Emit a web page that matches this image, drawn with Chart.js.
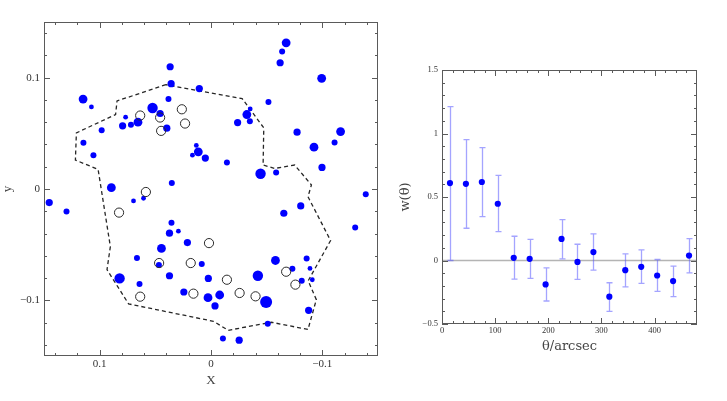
<!DOCTYPE html>
<html><head><meta charset="utf-8">
<script src="https://cdn.jsdelivr.net/npm/chart.js@4.4.1/dist/chart.umd.min.js"></script>
<style>
html,body{margin:0;padding:0;background:#fff;}
#wrap{position:relative;width:727px;height:401px;overflow:hidden;background:#fff;}
canvas{position:absolute;top:0;}
</style></head><body>
<div id="wrap">
<canvas id="c1" width="390" height="401" style="left:0px"></canvas>
<canvas id="c2" width="337" height="401" style="left:390px"></canvas>
</div>
<script>
// ---------- Left panel data ----------
const galX = [0.1149,0.1074,0.0367,0.0358,0.0105,0.0382,0.0525,0.0457,0.0767,0.0794,0.0719,0.0656,0.0397,0.0982,0.1146,0.1056,0.0132,0.0114,0.0167,0.0051,0.0352,0.0895,0.1453,0.1298,0.0696,0.0606,
-0.0675,-0.0639,-0.0621,-0.0994,-0.0516,-0.0352,-0.0322,-0.0349,-0.0239,-0.0773,-0.1164,-0.0925,-0.111,-0.0143,-0.0445,-0.0585,-0.0997,-0.139,
-0.0806,-0.0654,-0.1295,0.0083,-0.0579,-0.0859,-0.0731,-0.0889,-0.0421,0.0024,-0.0815,-0.091,0.0027,-0.0078,-0.0495,-0.0036,-0.0877,-0.051,-0.0107,-0.0253,
0.0355,0.0373,0.0293,0.0212,0.0445,0.0665,0.0468,0.0373,0.0821,0.0642,0.0244];
const galY = [0.0808,0.0737,0.1098,0.0946,0.0902,0.0808,0.0728,0.0678,0.0645,0.0567,0.0576,0.060,0.0546,0.0528,0.0415,0.0304,0.0391,0.0334,0.0304,0.0278,0.0054,0.0012,-0.0122,-0.0203,-0.0107,-0.0083,
0.1313,0.1235,0.1134,0.0994,0.0782,0.0719,0.0669,0.0609,0.0597,0.051,0.0516,0.0376,0.0418,0.0239,0.0137,0.0149,0.0194,-0.0047,
-0.0152,-0.0218,-0.0346,-0.0674,-0.0642,-0.0624,-0.0716,-0.0713,-0.0779,-0.0803,-0.0824,-0.0815,-0.0976,-0.0952,-0.1014,-0.105,-0.109,-0.1211,-0.1343,-0.1358,
-0.0304,-0.0397,-0.0379,-0.0481,-0.0534,-0.062,-0.0683,-0.0779,-0.0803,-0.0853,-0.0925];
const galSize = [4,1,3,3,3,2,5,3,1,3,2,4,3,2,2,2,1,4,1,3,2,4,3,2,1,1,
4,2,3,4,2,1,4,2,3,3,4,4,2,2,5,2,3,2,
3,3,2,2,4,2,2,1,5,3,2,1,4,4,6,3,3,2,2,3,
2,3,1,3,4,2,2,3,5,2,3];
const openX = [0.0636,0.0457,0.0262,0.0233,0.0448,0.0585,0.0826,0.0018,0.0466,0.0182,-0.0143,-0.0675,-0.0758,0.0158,-0.0257,-0.04,0.0636];
const openY = [0.066,0.0642,0.0716,0.0588,0.0522,-0.0027,-0.0212,-0.0486,-0.0665,-0.0665,-0.0815,-0.0743,-0.0859,-0.094,-0.0934,-0.0964,-0.0967];
const boundX = [0.0406,0.0844,0.0857,0.1209,0.1218,0.1014,0.0904,0.0934,0.074,-0.0021,-0.0155,-0.0543,-0.0871,-0.0946,-0.0873,-0.1074,-0.0871,-0.0902,-0.0752,-0.0573,-0.0468,-0.0474,-0.028,0.0406];
const boundY = [0.0937,0.0791,0.0669,0.0504,0.026,0.0176,-0.0517,-0.0725,-0.1032,-0.1188,-0.1269,-0.1197,-0.1262,-0.0994,-0.0824,-0.0463,-0.0069,0.0036,0.0215,0.0185,0.0215,0.0549,0.0812,0.0937];
const xyTickValues = [-0.14,-0.12,-0.1,-0.08,-0.06,-0.04,-0.02,0,0.02,0.04,0.06,0.08,0.1,0.12,0.14];

// ---------- Right panel data ----------
const thetaBins = [15,45,75,105,135,165,195,225,255,285,315,345,375,405,435,465];
const wTheta = [0.61,0.604,0.618,0.447,0.021,0.013,-0.188,0.17,-0.011,0.066,-0.285,-0.076,-0.05,-0.118,-0.162,0.039];
const wUpper = [1.211,0.952,0.889,0.67,0.191,0.167,-0.058,0.322,0.128,0.209,-0.175,0.052,0.084,0.008,-0.044,0.173];
const wLower = [0.0,0.254,0.345,0.228,-0.147,-0.141,-0.319,0.013,-0.149,-0.076,-0.4,-0.207,-0.18,-0.243,-0.285,-0.097];
const wTickValues = [-0.5,-0.4,-0.3,-0.2,-0.1,0,0.1,0.2,0.3,0.4,0.5,0.6,0.7,0.8,0.9,1.0,1.1,1.2,1.3,1.4,1.5];
const thetaTickValues = [0,20,40,60,80,100,120,140,160,180,200,220,240,260,280,300,320,340,360,380,400,420,440,460];

// ---------- styles ----------
const radiusOf = [0, 2.4, 3.0, 3.6, 4.4, 5.2, 6.0];
const FRAME = '#5a5a5a';
Chart.defaults.font.family = "'Liberation Serif', 'DejaVu Serif', serif";
Chart.defaults.color = '#333';

function lblXY(v){ const k = Math.round(v*100); if (k % 10 !== 0) return ''; if (k === 0) return '0'; return (k<0?'\u2212':'') + (Math.abs(k)/100).toFixed(1); }
function lblW(v){ const k = Math.round(v*10); if (k % 5 !== 0) return ''; if (k === 0) return '0'; return (k<0?'\u2212':'') + String(Math.abs(k)/10); }
function lblT(v){ const k = Math.round(v); return (k % 100 === 0) ? String(k) : ''; }

function setTicks(values, isMajor){
  return function(scale){ scale.ticks = values.map(v => ({value: v, major: isMajor(v)})); };
}
function fixW(w){ return function(scale){ scale.width = w; }; }
function fixH(h){ return function(scale){ scale.height = h; }; }

const framePlugin = {
  id: 'frameTicks',
  beforeDatasetsDraw(chart){
    const {ctx, chartArea: a} = chart;
    const xs = chart.scales.x, ys = chart.scales.y;
    ctx.save();
    ctx.strokeStyle = FRAME; ctx.lineWidth = 1;
    ctx.strokeRect(Math.round(a.left)+0.5, Math.round(a.top)+0.5, Math.round(a.right-a.left)-1, Math.round(a.bottom-a.top)-1);
    ctx.beginPath();
    xs.ticks.forEach(t => {
      const p = Math.round(xs.getPixelForValue(t.value)) + 0.5;
      const L = t.major ? 6 : 3;
      ctx.moveTo(p, a.bottom); ctx.lineTo(p, a.bottom - L);
      ctx.moveTo(p, a.top); ctx.lineTo(p, a.top + L);
    });
    ys.ticks.forEach(t => {
      const p = Math.round(ys.getPixelForValue(t.value)) + 0.5;
      const L = t.major ? 6 : 3;
      ctx.moveTo(a.left, p); ctx.lineTo(a.left + L, p);
      ctx.moveTo(a.right, p); ctx.lineTo(a.right - L, p);
    });
    ctx.stroke();
    ctx.restore();
  }
};

const errPlugin = {
  id: 'errBars',
  beforeDatasetsDraw(chart){
    const {ctx, chartArea: a} = chart;
    const xs = chart.scales.x, ys = chart.scales.y;
    ctx.save();
    // zero line
    const y0 = ys.getPixelForValue(0);
    ctx.strokeStyle = '#b4b4b4'; ctx.lineWidth = 1.6;
    ctx.beginPath(); ctx.moveTo(a.left, y0); ctx.lineTo(a.right, y0); ctx.stroke();
    // error bars
    ctx.strokeStyle = 'rgba(90,90,255,0.55)'; ctx.lineWidth = 1.3;
    ctx.beginPath();
    thetaBins.forEach((t, i) => {
      const x = Math.round(xs.getPixelForValue(t)) + 0.5;
      const yt = ys.getPixelForValue(wUpper[i]);
      const yb = ys.getPixelForValue(wLower[i]);
      ctx.moveTo(x, yt); ctx.lineTo(x, yb);
      ctx.moveTo(x-3, yt); ctx.lineTo(x+3, yt);
      ctx.moveTo(x-3, yb); ctx.lineTo(x+3, yb);
    });
    ctx.stroke();
    ctx.restore();
  }
};

// ---------- Left chart ----------
new Chart(document.getElementById('c1'), {
  type: 'scatter',
  data: {
    datasets: [
      { label: 'open', data: openX.map((x,i)=>({x, y: openY[i]})), pointRadius: 4.6, pointBackgroundColor: 'rgba(0,0,0,0)', pointBorderColor: '#2a2a2a', pointBorderWidth: 1, order: 0 },
      { label: 'filled', data: galX.map((x,i)=>({x, y: galY[i]})), pointRadius: galSize.map(s => radiusOf[s]), pointBackgroundColor: '#0000ff', pointBorderWidth: 0, order: 1 },
      { label: 'boundary', type: 'line', data: boundX.map((x,i)=>({x, y: boundY[i]})), showLine: true, tension: 0, borderColor: '#262626', borderWidth: 1.3, borderDash: [4,3], pointRadius: 0, fill: false, order: 2 }
    ]
  },
  options: {
    responsive: false, animation: false, devicePixelRatio: 1, events: [],
    layout: { padding: { top: 22, right: 12, left: 0, bottom: 0 } },
    plugins: { legend: { display: false }, tooltip: { enabled: false } },
    scales: {
      x: { type: 'linear', min: -0.15, max: 0.15, reverse: true,
           afterBuildTicks: setTicks(xyTickValues, v => Math.round(v*100) % 10 === 0),
           afterFit: fixH(45),
           grid: { display: false, drawTicks: false }, border: { display: false },
           ticks: { callback: lblXY, autoSkip: false, maxRotation: 0, minRotation: 0, padding: 2, font: { size: 11 }, color: '#333' },
           title: { display: true, text: 'X', font: { size: 13 }, padding: { top: 0, bottom: 12.5 }, color: '#444' } },
      y: { type: 'linear', min: -0.15, max: 0.15,
           afterBuildTicks: setTicks(xyTickValues, v => Math.round(v*100) % 10 === 0),
           afterFit: fixW(44),
           grid: { display: false, drawTicks: false }, border: { display: false },
           ticks: { callback: lblXY, autoSkip: false, padding: 4, font: { size: 11 }, color: '#333' },
           title: { display: true, text: 'y', font: { size: 13 }, padding: { top: 0, bottom: 0 }, color: '#444' } }
    }
  },
  plugins: [framePlugin]
});

// ---------- Right chart ----------
new Chart(document.getElementById('c2'), {
  type: 'scatter',
  data: {
    datasets: [
      { label: 'w', data: thetaBins.map((t,i)=>({x: t, y: wTheta[i]})), pointRadius: 3.1, pointBackgroundColor: '#0000ff', pointBorderWidth: 0 }
    ]
  },
  options: {
    responsive: false, animation: false, devicePixelRatio: 1, events: [],
    layout: { padding: { top: 70, right: 30, left: 0, bottom: 0 } },
    plugins: { legend: { display: false }, tooltip: { enabled: false } },
    scales: {
      x: { type: 'linear', min: 0, max: 480,
           afterBuildTicks: setTicks(thetaTickValues, v => Math.round(v) % 100 === 0),
           afterFit: fixH(77),
           grid: { display: false, drawTicks: false }, border: { display: false },
           ticks: { callback: lblT, autoSkip: false, maxRotation: 0, minRotation: 0, padding: 2, font: { size: 8.5 }, color: '#333' },
           title: { display: true, text: '\u03B8/arcsec', font: { family: "'DejaVu Serif', serif", size: 13 }, padding: { top: 0, bottom: 47 }, color: '#444' } },
      y: { type: 'linear', min: -0.5, max: 1.5,
           afterBuildTicks: setTicks(wTickValues, v => Math.round(v*10) % 5 === 0),
           afterFit: fixW(52),
           grid: { display: false, drawTicks: false }, border: { display: false },
           ticks: { callback: lblW, autoSkip: false, padding: 4, font: { size: 8.5 }, color: '#333' },
           title: { display: true, text: 'w(\u03B8)', font: { family: "'DejaVu Serif', serif", size: 13 }, padding: { top: 8, bottom: 0 }, color: '#444' } }
    }
  },
  plugins: [errPlugin, framePlugin]
});
</script>
</body></html>
